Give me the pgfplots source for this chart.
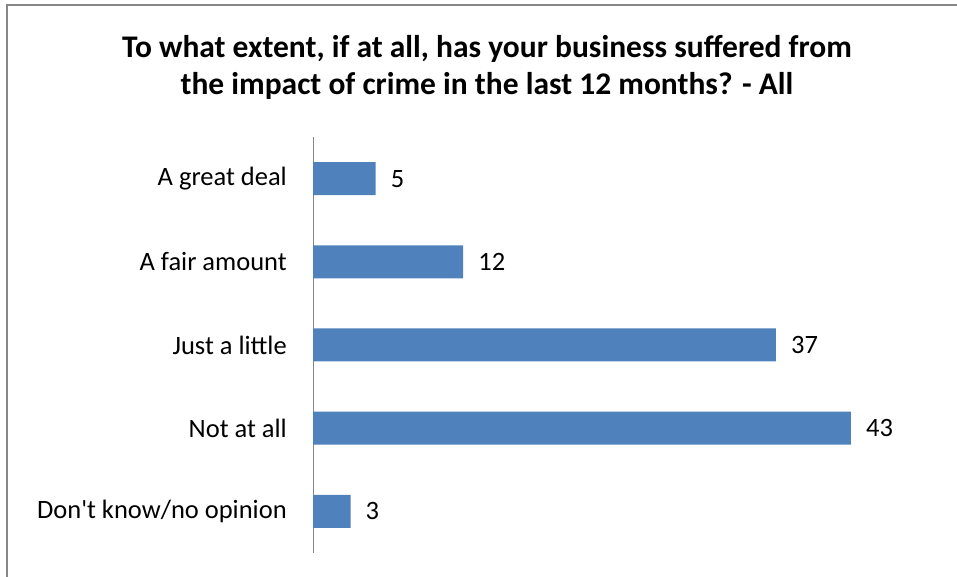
\documentclass[border=0pt]{standalone}
\usepackage{fontspec}
\setmainfont{Carlito}[Ligatures=TeXOff]
\usepackage{pgfplots}
\pgfplotsset{compat=1.18}
\definecolor{barblue}{RGB}{79,129,189}
\definecolor{framegray}{RGB}{135,135,135}
\definecolor{axisgray}{RGB}{134,134,134}

\pgfplotstableread{
idx value
0 5
1 12
2 37
3 43
4 3
}\crimedata

\begin{document}
\begin{tikzpicture}[x=1bp,y=1bp]
  \useasboundingbox (0,0) rectangle (957,577);
  % chart frame
  \draw[framegray, line width=2.2bp] (7,0) -- (7,572) -- (957,572);
  % title
  \node[align=center, font=\bfseries\fontsize{31.5bp}{37bp}\selectfont, anchor=center]
    at (487,510) {To what extent, if at all, has your business suffered from\\the impact of crime in the last 12 months? - All};
  \begin{axis}[
    scale only axis,
    width=625.5bp, height=416bp,
    at={(313bp,24bp)}, anchor=south west,
    xmin=0, xmax=50,
    ymin=-0.5, ymax=4.5,
    y dir=reverse,
    xbar,
    bar width=33bp,
    hide x axis,
    axis y line*=left,
    y axis line style={draw=axisgray, line width=1bp, -},
    ytick={0,1,2,3,4},
    yticklabels={A great deal, A fair amount, Just a little, Not at all, Don't know/no opinion},
    major tick length=0pt,
    yticklabel style={font=\fontsize{26.5bp}{30bp}\selectfont, inner sep=0pt, xshift=-26bp, text=black},
    nodes near coords,
    nodes near coords style={font=\fontsize{26.5bp}{30bp}\selectfont, anchor=west, inner sep=0pt, xshift=15bp, text=black},
    /pgf/number format/assume math mode=true,
    clip=false,
  ]
    \addplot[fill=barblue, draw=none] table[x=value, y=idx] {\crimedata};
  \end{axis}
\end{tikzpicture}
\end{document}
